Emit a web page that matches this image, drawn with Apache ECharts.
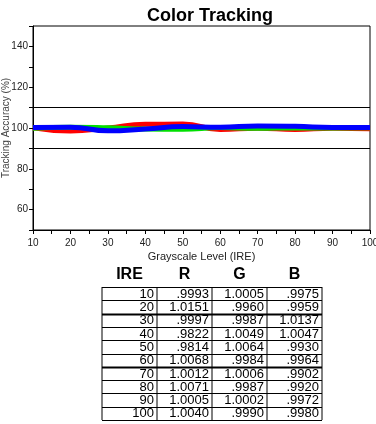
<!DOCTYPE html>
<html>
<head>
<meta charset="utf-8">
<script src="https://cdn.jsdelivr.net/npm/echarts@6/dist/echarts.min.js"></script>
<style>
  html, body { margin: 0; padding: 0; background: #fff; }
  #chart { width: 376px; height: 424px; }
</style>
</head>
<body>
<div id="chart"></div>
<script>
// grayscale levels
var ire = [10, 20, 30, 40, 50, 60, 70, 80, 90, 100];
// plotted tracking accuracy (%)
var redLine = [100.1, 98.5, 100.0, 101.8, 101.9, 99.3, 99.9, 99.3, 99.9, 99.6];
var greenLine = [99.9, 100.4, 100.1, 99.5, 99.4, 100.2, 99.9, 100.1, 100.0, 100.1];
var blueLine = [100.3, 100.4, 98.6, 99.5, 100.7, 100.4, 101.0, 100.8, 100.3, 100.2];
// table text
var tableHead = ["IRE", "R", "G", "B"];
var rCol = [".9993", "1.0151", ".9997", ".9822", ".9814", "1.0068", "1.0012", "1.0071", "1.0005", "1.0040"];
var gCol = ["1.0005", ".9960", ".9987", "1.0049", "1.0064", ".9984", "1.0006", ".9987", "1.0002", ".9990"];
var bCol = [".9975", ".9959", "1.0137", "1.0047", ".9930", ".9964", ".9902", ".9920", ".9972", ".9980"];

var font = "Liberation Sans, Arial, sans-serif";

function pairs(vals) {
  return ire.map(function(x, i) { return [x, vals[i]]; });
}

// table built from graphic elements
function buildTable() {
  var left = 102, top = 287, colW = 55, rowH = 13.3;
  var cols = [ire.map(String), rCol, gCol, bCol];
  var els = [];
  tableHead.forEach(function(h, c) {
    els.push({
      type: "text",
      x: left + colW * c + colW / 2,
      y: 275,
      style: { text: h, font: "bold 16px " + font, fill: "#000", textAlign: "center", textVerticalAlign: "middle" }
    });
  });
  var bottom = top + rowH * ire.length;
  for (var c = 0; c <= 4; c++) {
    els.push({
      type: "line",
      shape: { x1: left + colW * c, y1: top, x2: left + colW * c, y2: bottom },
      style: { stroke: "#000", lineWidth: 1 }
    });
  }
  for (var r = 0; r <= ire.length; r++) {
    var y = Math.round(top + rowH * r) + 0.5;
    els.push({
      type: "line",
      shape: { x1: left, y1: y, x2: left + colW * 4, y2: y },
      style: { stroke: "#000", lineWidth: (r === 2 || r === 6) ? 2 : 1 }
    });
  }
  for (var i = 0; i < ire.length; i++) {
    for (var k = 0; k < 4; k++) {
      els.push({
        type: "text",
        x: left + colW * (k + 1) - 3,
        y: top + rowH * i + rowH / 2 + 0.5,
        style: { text: cols[k][i], font: "13px " + font, fill: "#000", textAlign: "right", textVerticalAlign: "middle" }
      });
    }
  }
  return els;
}

var chart = echarts.init(document.getElementById("chart"));

function lineSeries(name, vals, color) {
  return {
    name: name,
    type: "line",
    data: pairs(vals),
    smooth: 0.5,
    symbol: "none",
    lineStyle: { color: color, width: 5 },
    z: 3
  };
}

var series = [
  lineSeries("R", redLine, "#ff0000"),
  lineSeries("G", greenLine, "#00e000"),
  lineSeries("B", blueLine, "#0000ff")
];
series[0].markLine = {
  silent: true,
  symbol: "none",
  label: { show: false },
  lineStyle: { color: "#000", width: 1, type: "solid" },
  data: [{ yAxis: 110 }, { yAxis: 90 }]
};

chart.setOption({
  animation: false,
  backgroundColor: "#fff",
  title: {
    text: "Color Tracking",
    left: 205,
    textAlign: "center",
    top: 2,
    textStyle: { fontFamily: font, fontWeight: "bold", fontSize: 18, color: "#000" }
  },
  grid: {
    left: 33,
    right: 6,
    top: 26,
    height: 204,
    outerBoundsMode: "none",
    containLabel: false,
    show: true,
    borderColor: "#000",
    borderWidth: 1
  },
  xAxis: {
    type: "value",
    min: 10,
    max: 100,
    interval: 10,
    name: "Grayscale Level (IRE)",
    nameLocation: "middle",
    nameGap: 21,
    nameTextStyle: { fontFamily: font, fontSize: 11, color: "#222" },
    axisLine: { lineStyle: { color: "#000" } },
    axisTick: { length: 4, lineStyle: { color: "#000" } },
    minorTick: { show: true, splitNumber: 2, length: 4, lineStyle: { color: "#000" } },
    splitLine: { show: false },
    axisLabel: { fontFamily: font, fontSize: 10, color: "#222", margin: 8 }
  },
  yAxis: {
    type: "value",
    min: 50,
    max: 150,
    interval: 10,
    name: "Tracking Accuracy (%)",
    nameLocation: "middle",
    nameGap: 22,
    nameMoveOverlap: false,
    nameTextStyle: { fontFamily: font, fontSize: 10, color: "#444" },
    axisLine: { show: true, lineStyle: { color: "#000" } },
    axisTick: { length: 4, lineStyle: { color: "#000" } },
    splitLine: { show: false },
    axisLabel: {
      fontFamily: font,
      fontSize: 10,
      color: "#222",
      margin: 5,
      formatter: function(v) {
        return (v - 60) % 20 === 0 && v >= 60 && v <= 140 ? String(v) : "";
      }
    }
  },
  series: series,
  graphic: buildTable()
});
</script>
</body>
</html>
